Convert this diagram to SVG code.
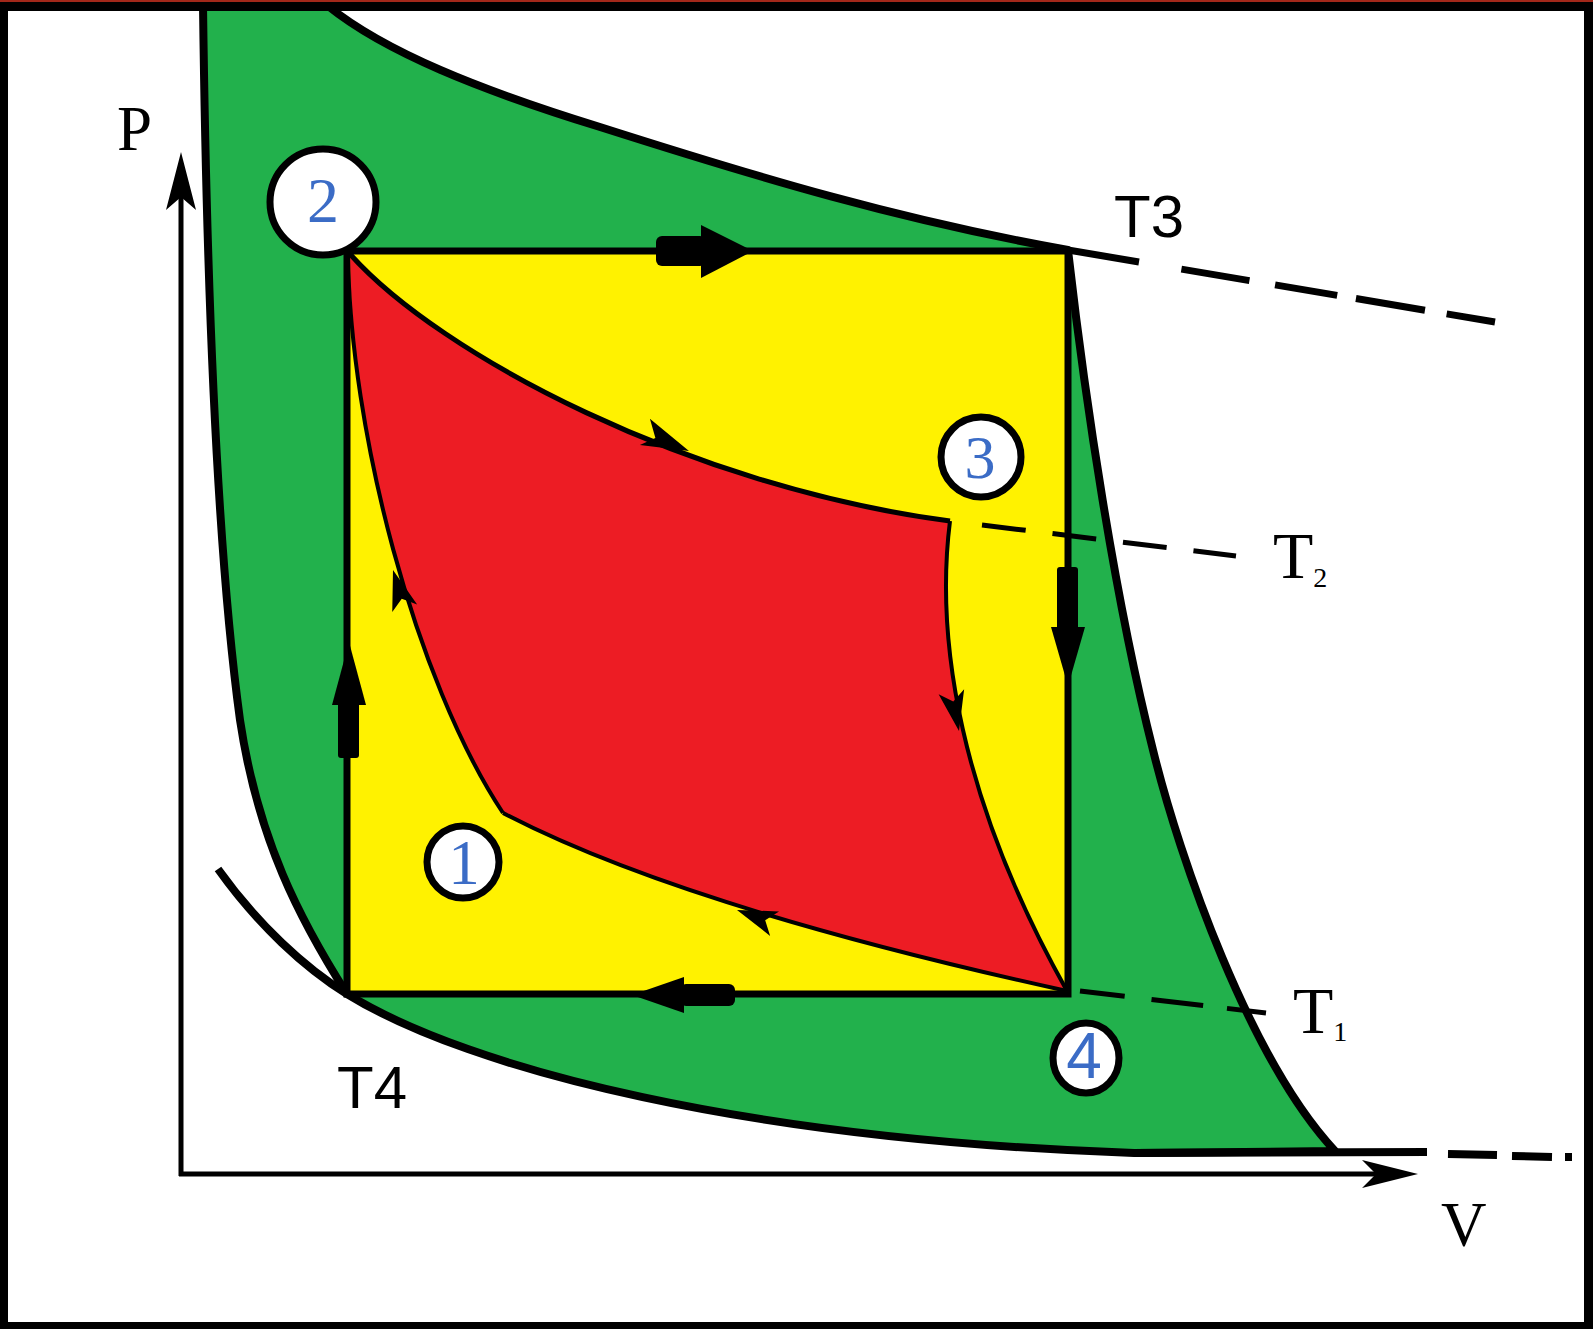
<svg xmlns="http://www.w3.org/2000/svg" width="1593" height="1329" viewBox="0 0 1593 1329">
<style>
.ln{fill:none;stroke:#000;stroke-linejoin:round}
.blk{fill:#000}
.serif{font-family:"Liberation Serif","Times New Roman",serif;fill:#000}
.sans{font-family:"Liberation Sans",Arial,sans-serif;fill:#000}
.num{fill:#3b6cc6}
.node circle,.node ellipse{fill:#fff;stroke:#000;stroke-width:7}
</style>
<rect x="0" y="0" width="1593" height="1329" fill="#fff"/>
<g id="regions">
<path id="green" d="M203,5 L328,6 C385,52 480,90 600,127 C760,178 900,220 1068,250 C1085,400 1115,600 1153,750 C1180,860 1250,1060 1335,1151 L1134,1153 C750,1140 470,1070 347,994 C300,920 258,840 240,720 C225,610 208,400 203,5 Z" fill="#22b14c" stroke="#000" stroke-width="8" stroke-linejoin="round"/>
<rect id="yellow" x="347" y="251" width="721" height="743" fill="#fff200" stroke="#000" stroke-width="7"/>
<path id="red" d="M350,254 C440,355 690,487 950,521 C935,640 960,800 1067,991 C880,950 650,890 503,813 C415,680 350,430 350,254 Z" fill="#ed1c24"/>
</g>
<g id="connectors">
<path class="ln" stroke-width="5" d="M350,254 C440,355 690,487 950,521"/>
<path class="ln" stroke-width="4" d="M950,521 C935,640 960,800 1067,991"/>
<path class="ln" stroke-width="4" d="M1067,991 C880,950 650,890 503,813"/>
<path class="ln" stroke-width="4" d="M503,813 C415,680 350,430 348,254"/>
<path class="ln" stroke-width="8" d="M218,869 C258,925 305,968 347,994"/>
<path class="ln" stroke-width="8" d="M1134,1153 L1427,1152"/>
<path class="ln" stroke-width="8" d="M1448,1154 L1497,1155 M1512,1156 L1552,1157 M1565,1157 L1572,1157"/>
<path class="ln" stroke-width="7" stroke-dasharray="72 43 69 26 63 19 70 22 50" d="M1068,250 L1495,322"/>
<path class="ln" stroke-width="5" stroke-dasharray="44 27" d="M982,525 L1236,556"/>
<path class="ln" stroke-width="5" stroke-dasharray="45 27 52 24 40" d="M1080,991 L1266,1013"/>
<path class="ln" stroke-width="5" d="M181,1176 L181,165 M179,1174 L1405,1174"/>
<path class="blk" d="M181,152 L166,210 L181,197 L196,210 Z"/>
<path class="blk" d="M1418,1174 L1362,1160 L1376,1174 L1362,1188 Z"/>
<rect class="blk" x="656" y="236" width="50" height="30" rx="6"/>
<path class="blk" d="M701,225 L753,251 L701,278 Z"/>
<rect class="blk" x="338" y="700" width="21" height="58" rx="3"/>
<path class="blk" d="M349,642 L332,705 L366,705 Z"/>
<rect class="blk" x="1057" y="567" width="21" height="64" rx="3"/>
<path class="blk" d="M1051,627 L1085,627 L1068,686 Z"/>
<rect class="blk" x="680" y="984" width="55" height="22" rx="6"/>
<path class="blk" d="M632,995 L684,977 L684,1013 Z"/>
<path class="blk" d="M0,0 L-48,-16 L-36,0 L-48,12 Z" transform="translate(689,451) rotate(21)"/>
<path class="blk" d="M0,0 L-40,-13 L-30,0 L-40,13 Z" transform="translate(393,570) rotate(-107)"/>
<path class="blk" d="M0,0 L-40,-13 L-30,0 L-40,13 Z" transform="translate(959,731) rotate(79)"/>
<path class="blk" d="M0,0 L-40,-13 L-30,0 L-40,13 Z" transform="translate(737,910) rotate(200)"/>
</g>
<g id="node2" class="node"><circle cx="323" cy="202" r="53"/><text class="serif num" x="323" y="222" font-size="64" text-anchor="middle">2</text></g>
<g id="node3" class="node"><circle cx="981" cy="457" r="40"/><text class="serif num" x="980" y="478" font-size="62" text-anchor="middle">3</text></g>
<g id="node1" class="node"><circle cx="463" cy="862" r="36"/><text class="serif num" x="464" y="884" font-size="63" text-anchor="middle">1</text></g>
<g id="node4" class="node"><ellipse cx="1086" cy="1058" rx="33" ry="35"/><text class="sans num" x="1084" y="1078" font-size="64" text-anchor="middle">4</text></g>
<g id="labels">
<text class="serif" x="117" y="150" font-size="63">P</text>
<text class="serif" x="1441" y="1246" font-size="63">V</text>
<text class="sans" x="1114" y="237" font-size="60">T3</text>
<text class="sans" x="337" y="1108" font-size="60">T4</text>
<text class="serif" x="1273" y="578" font-size="66">T<tspan font-size="28" dy="9">2</tspan></text>
<text class="serif" x="1293" y="1033" font-size="66">T<tspan font-size="28" dy="8">1</tspan></text>
</g>
<path id="frame" fill="#000" fill-rule="evenodd" d="M0,0 H1593 V1329 H0 Z M8,11 V1322 H1584 V11 Z"/>
<rect x="0" y="0" width="1593" height="2" fill="#a3281a"/>
</svg>
